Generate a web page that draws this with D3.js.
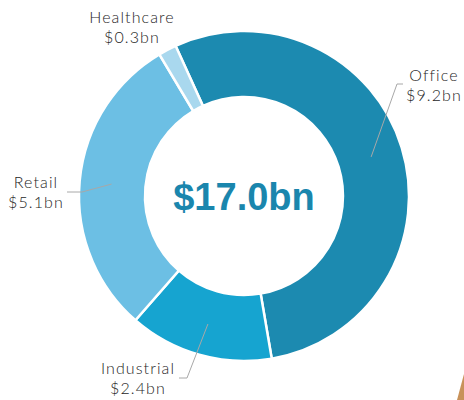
<!DOCTYPE html>
<html>
<head>
<meta charset="utf-8">
<script src="https://cdn.jsdelivr.net/npm/d3@7"></script>
<style>
  html, body { margin: 0; padding: 0; background: #fff; }
  svg { display: block; }
</style>
</head>
<body>
<svg id="chart"></svg>
<script>
const sectors = ['Office', 'Industrial', 'Retail', 'Healthcare']
const values = [9.2, 2.4, 5.1, 0.3]
const valueLabels = ['$9.2bn', '$2.4bn', '$5.1bn', '$0.3bn']
const totalLabel = '$17.0bn'

const colors = ['#1c8ab0', '#16a4d0', '#6cbfe4', '#a9d8ee']

const width = 464
const height = 400
const cx = 244
const cy = 196
const START = -24.5 * Math.PI / 180

// label placement: text centre, first baseline, leader elbow (null = no leader)
const labelLayout = {
  Office:     { x: 434, y: 81,  elbow: [397, 84],  tail: 403 },
  Industrial: { x: 138, y: 374, elbow: [187, 378], tail: 179 },
  Retail:     { x: 36,  y: 188, elbow: [82, 192],  tail: 67 },
  Healthcare: { x: 132, y: 23,  elbow: null }
}

const svg = d3.select('#chart')
  .attr('width', width)
  .attr('height', height)

svg.append('rect')
  .attr('width', width)
  .attr('height', height)
  .attr('fill', '#fff')

const g = svg.append('g')
  .attr('transform', `translate(${cx}, ${cy})`)

const pie = d3.pie()
  .sort(null)
  .value(d => d)
  .startAngle(START)
  .endAngle(START + 2 * Math.PI)

const arc = d3.arc()
  .innerRadius(99)
  .outerRadius(165)

const arcs = pie(values)

g.selectAll('path.slice')
  .data(arcs)
  .enter()
  .append('path')
  .attr('class', 'slice')
  .attr('d', arc)
  .attr('fill', (d, i) => colors[i])
  .attr('stroke', '#fff')
  .attr('stroke-width', 2.5)

// leader lines start inside the slice, at its middle angle
const leaderArc = d3.arc().innerRadius(133).outerRadius(133)

arcs.forEach((d, i) => {
  const lay = labelLayout[sectors[i]]
  if (lay.elbow) {
    const [sx, sy] = leaderArc.centroid(d)
    const pts = [[sx + cx, sy + cy], lay.elbow, [lay.tail, lay.elbow[1]]]
    svg.append('path')
      .attr('d', d3.line()(pts))
      .attr('fill', 'none')
      .attr('stroke', '#a8a8a8')
      .attr('stroke-width', 1)
  }
  const t = svg.append('text')
    .attr('x', lay.x)
    .attr('y', lay.y)
    .attr('text-anchor', 'middle')
    .attr('font-family', 'Lato, "Open Sans", sans-serif')
    .attr('font-weight', 300)
    .attr('font-size', 16)
    .attr('letter-spacing', 1.1)
    .attr('fill', '#1e1e1e')
  t.append('tspan').attr('x', lay.x).text(sectors[i])
  t.append('tspan').attr('x', lay.x).attr('dy', 20).text(valueLabels[i])
})

svg.append('text')
  .attr('x', cx)
  .attr('y', cy + 14)
  .attr('text-anchor', 'middle')
  .attr('font-family', '"Liberation Sans", Arial, sans-serif')
  .attr('font-weight', 'bold')
  .attr('font-size', 38)
  .attr('fill', '#1a86ad')
  .text(totalLabel)

// cropped corner of a neighbouring graphic in the original
svg.append('path')
  .attr('d', 'M457,400 L464,374 L464,400 Z')
  .attr('fill', '#c8925a')
</script>
</body>
</html>
